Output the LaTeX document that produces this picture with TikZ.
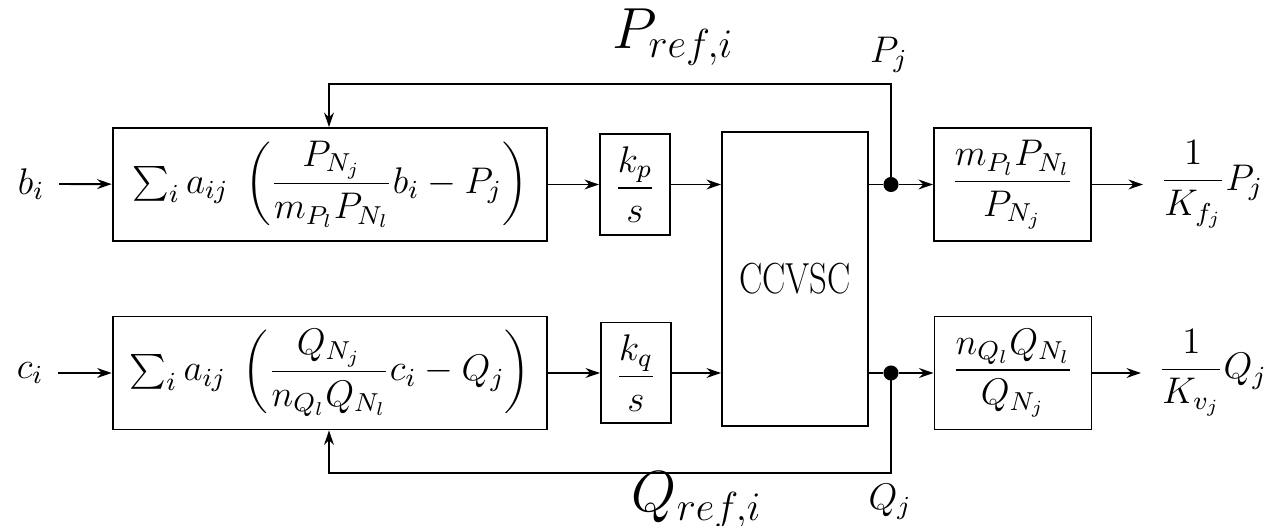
\RequirePackage{fix-cm}
\documentclass[tikz,border=0pt]{standalone}
\usepackage{amsmath}
\usetikzlibrary{arrows.meta}
\tikzset{
  ln/.style={line width=0.65pt},
  arr/.style={ln,-{Stealth[length=5pt,width=3.4pt]}},
  blk/.style={draw,ln,inner sep=0pt,fill=white},
  sumbox/.style={blk,minimum width=150pt,minimum height=39pt},
  kbox/.style={blk,minimum width=24.2pt,minimum height=34.8pt},
  ccbox/.style={blk,minimum width=50.4pt,minimum height=101.4pt},
  gbox/.style={blk,minimum width=54.2pt,minimum height=39pt},
  jdot/.style={circle,fill=black,inner sep=0pt,minimum size=5.2pt},
  inlab/.style={inner sep=5pt},
  outlab/.style={inner sep=6pt},
  lab/.style={inner sep=1pt},
  reflab/.style={inner sep=1pt,font=\fontsize{20}{24}\selectfont}
}
\begin{document}
\begin{tikzpicture}[x=0.345pt,y=-0.345pt,every node/.append style={font=\fontsize{12.8}{15}\selectfont}]
\useasboundingbox (0,0) rectangle (1273,526);
% top row
\node[inlab] (b) at (31,184) {$b_i$};
\node[sumbox] (f1) at (330,184.5) {$\sum_i a_{ij}\;\left(\dfrac{P_{N_j}}{m_{P_l}P_{N_l}}b_i-P_j\right)$};
\node[kbox] (kp) at (635,184.5) {$\dfrac{k_p}{s}$};
\node[ccbox] (cc) at (795,279) {\rmfamily\fontsize{15}{17}\selectfont\scalebox{0.8}[1]{CCVSC}};
\node[jdot] (d1) at (891,184.5) {};
\node[gbox] (g1) at (1012.5,184.5) {$\dfrac{m_{P_l}P_{N_l}}{P_{N_j}}$};
\node[outlab,anchor=west] (o1) at (1143,184.5) {$\dfrac{1}{K_{f_j}}P_j$};
% bottom row
\node[inlab] (c) at (30,373) {$c_i$};
\node[sumbox] (f2) at (330,373) {$\sum_i a_{ij}\;\left(\dfrac{Q_{N_j}}{n_{Q_l}Q_{N_l}}c_i-Q_j\right)$};
\node[kbox] (kq) at (636,373) {$\dfrac{k_q}{s}$};
\node[jdot] (d2) at (891,373) {};
\node[gbox] (g2) at (1013,373) {$\dfrac{n_{Q_l}Q_{N_l}}{Q_{N_j}}$};
\node[outlab,anchor=west] (o2) at (1141,373) {$\dfrac{1}{K_{v_j}}Q_j$};
% labels
\node[reflab] (pref) at (673,37) {$P_{ref,i}$};
\node[lab] (pj) at (889,55) {$P_j$};
\node[reflab] (qref) at (697,500) {$Q_{ref,i}$};
\node[lab] (qj) at (890,502) {$Q_j$};
\coordinate (t1) at (891,84);
\coordinate (t2) at (329,84);
\coordinate (u1) at (891,473);
\coordinate (u2) at (329,473);
% connectors top
\draw[arr] (b) -- (f1);
\draw[arr] (f1) -- (kp);
\draw[arr] (kp) -- (kp -| cc.west);
\draw[ln] (cc.east |- d1) -- (d1);
\draw[arr] (d1) -- (g1);
\draw[arr] (g1) -- (o1);
\draw[arr] (d1.center) -- (t1) -- (t2) -- (t2 |- f1.north);
% connectors bottom
\draw[arr] (c) -- (f2);
\draw[arr] (f2) -- (kq);
\draw[arr] (kq) -- (kq -| cc.west);
\draw[ln] (cc.east |- d2) -- (d2);
\draw[arr] (d2) -- (g2);
\draw[arr] (g2) -- (o2);
\draw[arr] (d2.center) -- (u1) -- (u2) -- (u2 |- f2.south);
\end{tikzpicture}
\end{document}
